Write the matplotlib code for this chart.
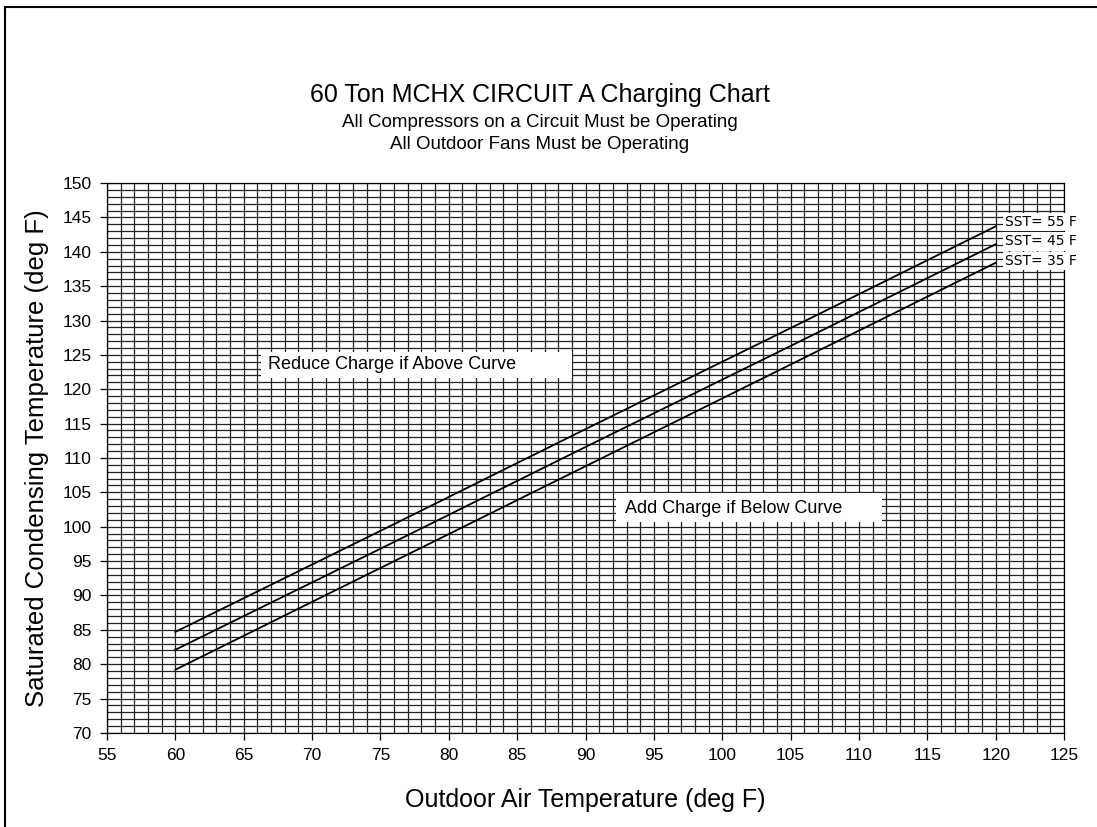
import numpy as np
import matplotlib.pyplot as plt
from matplotlib.lines import Line2D
from matplotlib.patches import Rectangle

plt.rcParams['font.family'] = ['Liberation Sans', 'DejaVu Sans']

# outdoor air temp (deg F)
oat = [60, 75, 90, 105, 120]
# saturated condensing temp for each suction temp
sct_55 = [84.7, 99.4, 114.2, 128.9, 143.7]
sct_45 = [82.1, 96.8, 111.6, 126.3, 141.1]
sct_35 = [79.2, 94.0, 108.8, 123.6, 138.4]
labels = ['SST= 55 F', 'SST= 45 F', 'SST= 35 F']
label_y = [144.3, 141.5, 138.7]

fig = plt.figure(figsize=(10.97, 8.27), dpi=100)
ax = fig.add_axes([0.0975, 0.1137, 0.8725, 0.665])

ax.set_xlim(55, 125)
ax.set_ylim(70, 150)
ax.set_xticks(np.arange(55, 126, 5))
ax.set_yticks(np.arange(70, 151, 5))
ax.set_xticks(np.arange(55, 126, 1), minor=True)
ax.set_yticks(np.arange(70, 151, 1), minor=True)
ax.grid(which='both', color='#222222', linewidth=0.9)
ax.set_axisbelow(True)
ax.tick_params(which='minor', length=0)
ax.tick_params(which='major', direction='out', length=5, width=0.9, labelsize=12.5, pad=6)
for s in ax.spines.values():
    s.set_linewidth(0.9)

for ys in (sct_55, sct_45, sct_35):
    ax.plot(oat, ys, color='black', linewidth=1.3, zorder=3)

for lab, yy in zip(labels, label_y):
    ax.text(120.65, yy, lab, fontsize=10, va='center', ha='left', zorder=4,
            family='DejaVu Sans',
            bbox=dict(facecolor='white', edgecolor='none', pad=1.5))

# white boxes behind the region notes
ax.add_patch(Rectangle((66.3, 121.6), 22.7, 3.8, facecolor='white', edgecolor='none', zorder=3.5))
ax.add_patch(Rectangle((92.2, 100.7), 19.5, 4.2, facecolor='white', edgecolor='none', zorder=3.5))
ax.text(66.75, 123.6, 'Reduce Charge if Above Curve', fontsize=13, va='center', ha='left', zorder=4)
ax.text(92.9, 102.7, 'Add Charge if Below Curve', fontsize=13, va='center', ha='left', zorder=4)

ax.set_xlabel('Outdoor Air Temperature (deg F)', fontsize=18, labelpad=18)
ax.set_ylabel('Saturated Condensing Temperature (deg F)', fontsize=18.5, labelpad=10)

fig.text(0.492, 0.885, '60 Ton MCHX CIRCUIT A Charging Chart', fontsize=18, ha='center', va='center')
fig.text(0.492, 0.852, 'All Compressors on a Circuit Must be Operating', fontsize=13.5, ha='center', va='center')
fig.text(0.492, 0.825, 'All Outdoor Fans Must be Operating', fontsize=13.5, ha='center', va='center')

# frame at top and left edges
fig.add_artist(Line2D([0.005, 0.005], [0, 0.992], transform=fig.transFigure, color='black', linewidth=1.5))
fig.add_artist(Line2D([0.005, 1.0], [0.992, 0.992], transform=fig.transFigure, color='black', linewidth=1.5))

fig.savefig('out.png', dpi=100)
